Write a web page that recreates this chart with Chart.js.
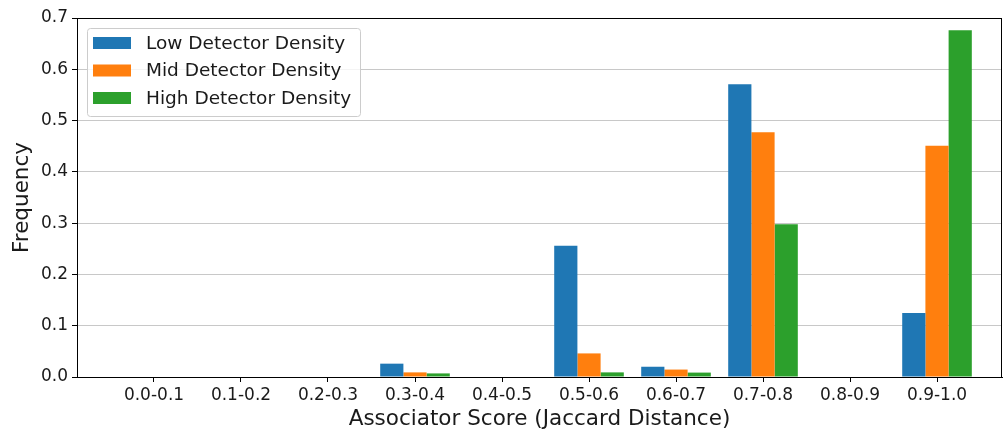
<!DOCTYPE html>
<html>
<head>
<meta charset="utf-8">
<script src="https://cdn.jsdelivr.net/npm/chart.js@4"></script>
<style>
	body { margin: 0; background: #fff; }
	#wrap { width: 1003px; height: 432px; }
</style>
</head>
<body>
<div id="wrap"><canvas id="chart" width="1003" height="432"></canvas></div>
<script>
// Catégories (tranches du score) et fréquences.
const categories = [ "0.0-0.1", "0.1-0.2", "0.2-0.3", "0.3-0.4", "0.4-0.5", "0.5-0.6", "0.6-0.7", "0.7-0.8", "0.8-0.9", "0.9-1.0" ];
const low_density = [ 0, 0, 0, 0.026, 0, 0.256, 0.020, 0.571, 0, 0.125 ];
const mid_density = [ 0, 0, 0, 0.009, 0, 0.046, 0.0145, 0.477, 0, 0.451 ];
const high_density = [ 0, 0, 0, 0.007, 0, 0.009, 0.0086, 0.298, 0, 0.676 ];
const y_ticks = [ 0, 0.1, 0.2, 0.3, 0.4, 0.5, 0.6, 0.7 ];

const font_family = "'DejaVu Sans', sans-serif";
const text_color = "#1a1a1a";

// Transforme une série en points { x, y } placés sur l'axe numérique.
const to_points = ( values ) => values.map( ( value, indice ) => ( { x: indice, y: value } ) );

//
// Cadre complet autour de la zone de tracé (comme matplotlib).
//
const frame_plugin = {
	id: "frame",
	afterDraw( chart )
	{
		const { ctx, chartArea } = chart;
		ctx.save();
		ctx.strokeStyle = "#000";
		ctx.lineWidth = 1;
		ctx.strokeRect( chartArea.left + 0.5, chartArea.top + 0.5, chartArea.right - chartArea.left - 1, chartArea.bottom - chartArea.top );
		ctx.restore();
	}
};

//
// Légende dessinée à l'intérieur de la zone de tracé.
//
const legend_plugin = {
	id: "inner_legend",
	afterDraw( chart )
	{
		const { ctx, chartArea } = chart;
		const x = chartArea.left + 10;
		const y = chartArea.top + 10;
		const w = 273;
		const h = 88;

		ctx.save();
		ctx.fillStyle = "rgba(255,255,255,0.8)";
		ctx.strokeStyle = "#cccccc";
		ctx.lineWidth = 1;
		ctx.beginPath();
		ctx.roundRect( x + 0.5, y + 0.5, w, h, 3 );
		ctx.fill();
		ctx.stroke();

		ctx.font = "18.5px " + font_family;
		ctx.textBaseline = "middle";
		chart.data.datasets.forEach( ( dataset, indice ) =>
		{
			const row_y = y + 15 + indice * 27.5;
			ctx.fillStyle = dataset.backgroundColor;
			ctx.fillRect( x + 6, row_y - 6, 38, 12 );
			ctx.fillStyle = text_color;
			ctx.fillText( dataset.label, x + 59, row_y + 1 );
		} );
		ctx.restore();
	}
};

new Chart( document.getElementById( "chart" ),
	{
		type: "bar",
		data: {
			datasets: [
				{ label: "Low Detector Density", data: to_points( low_density ), backgroundColor: "#1f77b4" },
				{ label: "Mid Detector Density", data: to_points( mid_density ), backgroundColor: "#ff7f0e" },
				{ label: "High Detector Density", data: to_points( high_density ), backgroundColor: "#2ca02c" }
			]
		},
		options: {
			responsive: false,
			animation: false,
			devicePixelRatio: 1,
			layout: {
				padding: { top: 18, right: 1, left: 0, bottom: 0 }
			},
			datasets: {
				bar: {
					categoryPercentage: 0.8,
					barPercentage: 1.0,
					borderWidth: 0
				}
			},
			plugins: {
				legend: { display: false },
				tooltip: { enabled: false }
			},
			scales: {
				x: {
					// Axe X : numérique pour reproduire les marges asymétriques.
					type: "linear",
					offset: false,
					min: -0.885,
					max: 9.747,
					afterBuildTicks: ( scale ) => { scale.ticks = categories.map( ( label, indice ) => ( { value: indice } ) ); },
					afterFit: ( scale ) => { scale.height = 55; },
					grid: {
						offset: false,
						drawOnChartArea: false,
						drawTicks: true,
						tickLength: 5,
						tickColor: "#000"
					},
					border: { color: "#000", width: 1 },
					ticks: {
						color: text_color,
						font: { size: 17, family: font_family },
						padding: 3,
						maxRotation: 0,
						autoSkip: false,
						callback: ( value ) => categories[ value ]
					},
					title: {
						display: true,
						text: "Associator Score (Jaccard Distance)",
						color: text_color,
						font: { size: 21.5, family: font_family },
						padding: { top: 0, bottom: 0 }
					}
				},
				y: {
					min: 0,
					max: 0.7,
					afterBuildTicks: ( scale ) => { scale.ticks = y_ticks.map( ( value ) => ( { value: value } ) ); },
					afterFit: ( scale ) => { scale.width = 77; },
					grid: {
						color: "#c8c8c8",
						lineWidth: 1,
						tickLength: 5,
						tickColor: "#000"
					},
					border: { color: "#000", width: 1 },
					ticks: {
						color: text_color,
						font: { size: 17, family: font_family },
						padding: 4,
						callback: ( value ) => value.toFixed( 1 )
					},
					title: {
						display: true,
						text: "Frequency",
						color: text_color,
						font: { size: 21.5, family: font_family },
						padding: { top: 10, bottom: 0 }
					}
				}
			}
		},
		plugins: [ frame_plugin, legend_plugin ]
	} );
</script>
</body>
</html>
